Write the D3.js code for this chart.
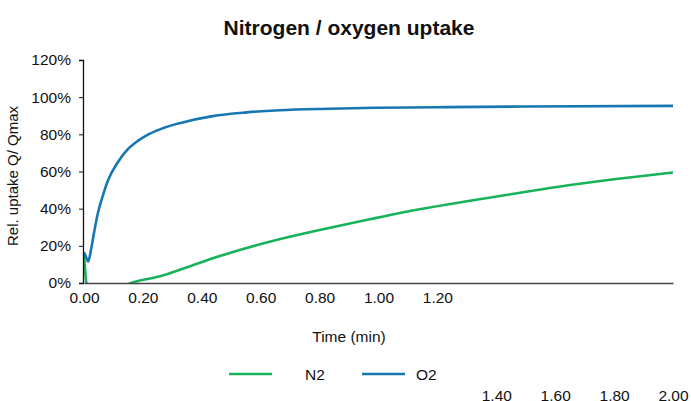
<!DOCTYPE html>
<meta charset="utf-8">
<style>
body { margin: 0; background: #fff; }
text { font-family: "Liberation Sans", Arial, sans-serif; fill: #111; }
.title { font-size: 21px; font-weight: bold; }
.tick text { font-size: 15.5px; }
</style>
<body>
<svg width="691" height="401"></svg>
<script src="https://d3js.org/d3.v7.min.js"></script>
<script>

// time in minutes, relative uptake in %
var o2Time  = [0, 0.007, 0.014, 0.024, 0.034, 0.047, 0.064, 0.081, 0.115, 0.149, 0.183, 0.214, 0.26, 0.325, 0.437, 0.553, 0.664, 0.834, 1.0, 1.2, 1.5, 2.0];
var o2Value = [16.5, 14, 11.5, 18, 27, 37.5, 47, 55, 65, 72, 76.5, 79.6, 82.8, 86, 89.8, 91.8, 93, 93.8, 94.3, 94.6, 95, 95.3];

var n2Time  = [0, 0.008, 0.02, 0.08, 0.16, 0.258, 0.35, 0.461, 0.63, 0.8, 0.97, 1.139, 1.3, 1.444, 1.6, 1.8, 2.0];
var n2Value = [16, 0, -6, -6, 0, 3.6, 8.5, 14.5, 22.2, 28.5, 34.3, 39.7, 44, 47.6, 51.5, 55.8, 59.5];

var yTicks = [0, 20, 40, 60, 80, 100, 120];
var xTicksTop = [0, 0.2, 0.4, 0.6, 0.8, 1.0, 1.2];
var xTicksBottom = [1.4, 1.6, 1.8, 2.0];

var series = [
  {name: "N2", color: "#17b35b", t: n2Time, v: n2Value},
  {name: "O2", color: "#1677b2", t: o2Time, v: o2Value}
];

var svg = d3.select("svg");

var x = d3.scaleLinear().domain([0, 2]).range([84, 673]);
var y = d3.scaleLinear().domain([0, 120]).range([283, 60]);

svg.append("text")
    .attr("class", "title")
    .attr("x", 349)
    .attr("y", 35)
    .attr("text-anchor", "middle")
    .text("Nitrogen / oxygen uptake");

svg.append("defs").append("clipPath")
    .attr("id", "plot")
  .append("rect")
    .attr("x", 83)
    .attr("y", 40)
    .attr("width", 600)
    .attr("height", 243);

var line = d3.line()
    .x(function(d) { return x(d[0]); })
    .y(function(d) { return y(d[1]); })
    .curve(d3.curveMonotoneX);

svg.append("g")
    .attr("clip-path", "url(#plot)")
  .selectAll("path")
    .data(series)
  .enter().append("path")
    .attr("fill", "none")
    .attr("stroke", function(d) { return d.color; })
    .attr("stroke-width", 2.6)
    .attr("d", function(d) { return line(d.t.map(function(t, i) { return [t, d.v[i]]; })); });

// y axis
var yAxis = svg.append("g")
    .attr("transform", "translate(83,0)")
    .call(d3.axisLeft(y)
      .tickValues(yTicks)
      .tickSize(4)
      .tickPadding(8)
      .tickFormat(function(d) { return d + "%"; }));
yAxis.select(".domain").attr("stroke", "#111").attr("stroke-width", 1.3);
yAxis.selectAll(".tick line").attr("stroke", "#111");

// x axis, labels past 1.20 drop to a second row
var xAxis = svg.append("g")
    .attr("transform", "translate(0,283)")
    .call(d3.axisBottom(x)
      .tickValues(xTicksTop)
      .tickSize(0)
      .tickPadding(9)
      .tickFormat(d3.format(".2f")));
xAxis.select(".domain").attr("stroke", "#444").attr("stroke-width", 1.6);

svg.append("g")
    .attr("transform", "translate(0,380)")
    .call(d3.axisBottom(x)
      .tickValues(xTicksBottom)
      .tickSize(0)
      .tickPadding(10)
      .tickFormat(d3.format(".2f")))
  .select(".domain").remove();

svg.selectAll(".tick text").attr("fill", "#111");

svg.append("text")
    .attr("x", 349)
    .attr("y", 342)
    .attr("text-anchor", "middle")
    .style("font-size", "15.5px")
    .text("Time (min)");

svg.append("text")
    .attr("transform", "translate(18,176) rotate(-90)")
    .attr("text-anchor", "middle")
    .style("font-size", "15px")
    .text("Rel. uptake Q/ Qmax");

// legend
var legend = svg.append("g")
  .selectAll("g")
    .data(series)
  .enter().append("g")
    .attr("transform", function(d, i) { return "translate(" + (229 + i * 133) + ",374)"; });

legend.append("line")
    .attr("x1", 0)
    .attr("x2", 43)
    .attr("stroke", function(d) { return d.color; })
    .attr("stroke-width", 2.6);

legend.append("text")
    .attr("x", function(d, i) { return i === 0 ? 76 : 54; })
    .attr("y", 5.5)
    .style("font-size", "15.5px")
    .text(function(d) { return d.name; });

</script>
</body>
